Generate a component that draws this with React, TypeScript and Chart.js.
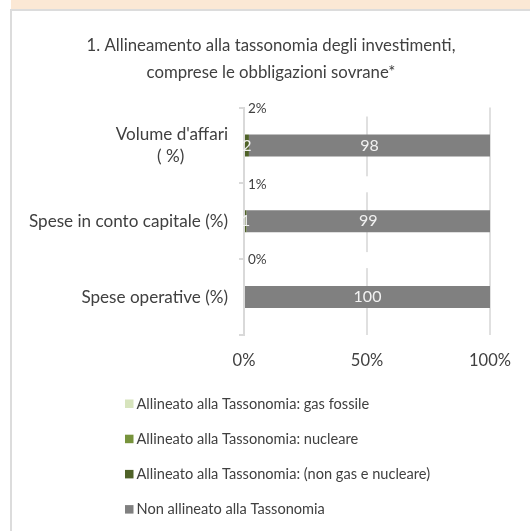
import React, { useEffect, useRef } from "react";
import { Chart, registerables } from "chart.js";

Chart.register(...registerables);

const FONT = 'Lato, "Open Sans", sans-serif';
const TEXT = "#404040";

// ---- data ----
const titleLines = [
  "1. Allineamento alla tassonomia degli investimenti,",
  "comprese le obbligazioni sovrane*",
];
const categories: (string | string[])[] = [
  ["Volume d'affari", "( %)"],
  "Spese in conto capitale (%)",
  "Spese operative (%)",
];
const seriesLabels = [
  "Allineato alla Tassonomia: gas fossile",
  "Allineato alla Tassonomia: nucleare",
  "Allineato alla Tassonomia: (non gas e nucleare)",
  "Non allineato alla Tassonomia",
];
const gasFossile = [0, 0, 0];
const nucleare = [0, 0, 0];
const nonGasNucleare = [2, 1, 0];
const nonAllineato = [98, 99, 100];
const totalAlignedLabels = ["2%", "1%", "0%"];
const xTickValues = [0, 50, 100];
const seriesColors = ["#d7e4bd", "#77933c", "#4f6228", "#808080"];

const measureCtx = document.createElement("canvas").getContext("2d") as CanvasRenderingContext2D;
function centerLines(lines: string[], font: string): string[] {
  measureCtx.font = font;
  const widths = lines.map((l) => measureCtx.measureText(l).width);
  const max = Math.max(...widths);
  const sp = measureCtx.measureText(" ").width || 4;
  return lines.map((l, i) => l + " ".repeat(Math.round((max - widths[i]) / 2 / sp)));
}

const labelsPlugin = {
  id: "customLabels",
  afterDatasetsDraw(chart: any) {
    const ctx: CanvasRenderingContext2D = chart.ctx;
    const xs = chart.scales.x;
    const ys = chart.scales.y;
    ctx.save();
    chart.data.datasets.forEach((ds: any, di: number) => {
      const meta = chart.getDatasetMeta(di);
      meta.data.forEach((el: any, i: number) => {
        const v = ds.data[i];
        if (!v) return;
        const p = el.getProps(["x", "y", "base"], true);
        ctx.fillStyle = "#f2f2f2";
        ctx.font = `16px ${FONT}`;
        ctx.textAlign = "center";
        ctx.textBaseline = "middle";
        ctx.fillText(String(v), (p.x + p.base) / 2, p.y);
      });
    });
    const gx = xs.getPixelForValue(50);
    totalAlignedLabels.forEach((t, i) => {
      const cy = ys.getPixelForValue(i) - 37;
      ctx.fillStyle = "#ffffff";
      ctx.fillRect(gx - 2, cy - 8, 4, 16);
      ctx.fillStyle = TEXT;
      ctx.font = `13.5px ${FONT}`;
      ctx.textAlign = "left";
      ctx.textBaseline = "middle";
      ctx.fillText(t, xs.getPixelForValue(0) + 4, cy);
    });
    ctx.restore();
  },
};

const legendPlugin = {
  id: "listLegend",
  afterDraw(chart: any) {
    const ctx: CanvasRenderingContext2D = chart.ctx;
    const left = 113;
    const top = chart.chartArea.bottom + 69;
    const step = 35.2;
    ctx.save();
    chart.data.datasets.forEach((ds: any, i: number) => {
      const cy = top + i * step;
      ctx.fillStyle = ds.backgroundColor;
      ctx.fillRect(left, cy - 4.5, 8.5, 8.5);
      ctx.fillStyle = TEXT;
      ctx.font = `14.6px ${FONT}`;
      ctx.textAlign = "left";
      ctx.textBaseline = "middle";
      ctx.fillText(ds.label, left + 11.5, cy);
    });
    ctx.restore();
  },
};

export default function App() {
  const ref = useRef<HTMLCanvasElement>(null);
  useEffect(() => {
    if (!ref.current) return;
    const series = [gasFossile, nucleare, nonGasNucleare, nonAllineato];
    const chart = new Chart(ref.current, {
      type: "bar",
      data: {
        labels: categories as any,
        datasets: series.map((d, i) => ({
          label: seriesLabels[i],
          data: d,
          backgroundColor: seriesColors[i],
          borderWidth: 0,
          barPercentage: 0.29,
          categoryPercentage: 1,
        })),
      },
      options: {
        indexAxis: "y",
        responsive: false,
        animation: false,
        devicePixelRatio: 1,
        layout: { padding: { left: 5, right: 5, top: 0, bottom: 146 } },
        plugins: {
          legend: { display: false },
          tooltip: { enabled: false },
          title: {
            display: true,
            text: titleLines,
            color: TEXT,
            font: { family: FONT, size: 16.75, weight: "normal", lineHeight: 1.6 },
            padding: { top: 21, bottom: 22 },
          },
        },
        scales: {
          x: {
            stacked: true,
            min: 0,
            max: 100,
            afterBuildTicks: (s: any) => {
              s.ticks = xTickValues.map((v) => ({ value: v }));
            },
            afterFit: (s: any) => {
              s.height = 50;
            },
            border: { display: false },
            grid: { color: "#e0e0e0", lineWidth: 2, drawTicks: false },
            ticks: {
              padding: 16,
              color: TEXT,
              font: { family: FONT, size: 16.5 },
              callback: (v: any) => v + "%",
            },
          },
          y: {
            stacked: true,
            afterFit: (s: any) => {
              s.width = 227;
            },
            border: { display: true, color: "#d9d9d9", width: 2 },
            grid: {
              drawOnChartArea: false,
              drawTicks: true,
              tickLength: 5,
              color: "#d9d9d9",
              lineWidth: 2,
            },
            ticks: {
              padding: 11,
              color: TEXT,
              font: { family: FONT, size: 17.1, lineHeight: 1.28 },
              callback: function (this: any, value: any) {
                const lbl = this.getLabelForValue(value);
                if (Array.isArray(lbl)) return centerLines(lbl, `17.1px ${FONT}`);
                return lbl;
              },
            },
          },
          rightSpace: {
            type: "category",
            position: "right",
            display: true,
            afterFit: (s: any) => {
              s.width = 35;
            },
            border: { display: false },
            grid: { display: false },
            ticks: { display: false },
          },
        },
      },
      plugins: [labelsPlugin, legendPlugin],
    });
    return () => chart.destroy();
  }, []);

  return (
    <div style={{ position: "fixed", left: 0, top: 0, width: 530, height: 531, overflow: "hidden", background: "#ffffff" }}>
      <div style={{ position: "absolute", left: 11, top: 0, width: 519, height: 9, background: "#fbe8d5" }} />
      <div
        style={{
          position: "absolute",
          left: 10,
          top: 9,
          width: 520,
          height: 522,
          borderTop: "2px solid #dcdcdc",
          borderLeft: "2px solid #dcdcdc",
          boxSizing: "border-box",
        }}
      >
        <canvas ref={ref} width={518} height={520} style={{ display: "block", width: 518, height: 520 }} />
      </div>
    </div>
  );
}
